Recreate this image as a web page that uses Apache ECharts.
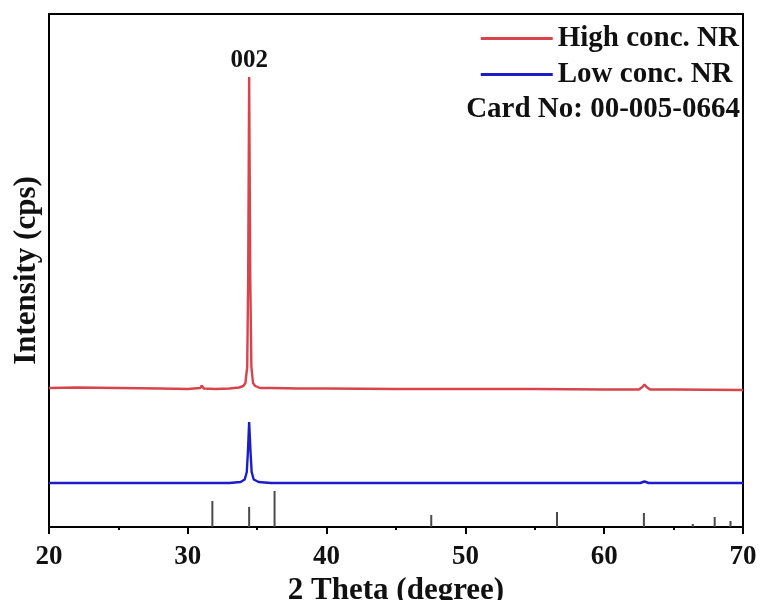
<!DOCTYPE html>
<html><head><meta charset="utf-8">
<script src="https://cdn.jsdelivr.net/npm/echarts@6/dist/echarts.min.js"></script>
<style>html,body{margin:0;padding:0;background:#fff}#c{width:761px;height:600px}</style>
</head><body><div id="c"></div>
<script>
// 2θ (degree) / intensity (arbitrary, offset)
const highConc = [[20,139],[22,139.5],[25,139],[28,138.5],[30,138],[30.9,139],[31.0,141.5],[31.15,138.5],[32,138],[33,138.5],[33.7,139.5],[34.0,141],[34.15,144],[34.28,160],[34.35,250],[34.42,450],[34.5,250],[34.58,160],[34.7,144],[34.85,141],[35.2,139],[36,139],[38,138.5],[40,138.5],[45,138],[50,138],[55,138],[60,137.5],[62.5,137.5],[62.75,140],[62.9,142.5],[63.05,140],[63.3,137.5],[65,137.5],[70,137]];
const lowConc = [[20,44],[25,44],[30,44],[33,44],[33.8,45],[34.1,47.5],[34.25,55],[34.33,75],[34.42,105],[34.52,75],[34.6,55],[34.75,47.5],[35.1,45],[36,44],[40,44],[50,44],[60,44],[62.6,44],[62.9,45.5],[63.2,44],[70,44]];
const cardPos = [31.77,34.42,36.25,47.54,56.60,62.86,66.38,67.96,69.10];
const cardInt = [26,20,36,12,15,14,3,10,6];
const xTicks = [20,30,40,50,60,70];
const FONT = '"Liberation Serif","Times New Roman",serif';

const chart = echarts.init(document.getElementById('c'));
chart.setOption({
  animation:false,
  backgroundColor:'#fff',
  grid:{left:49,right:18,top:14,bottom:73,outerBoundsMode:'none',containLabel:false,show:true,borderColor:'#000',borderWidth:2},
  legend:[{
    orient:'vertical',right:17,top:19,itemWidth:72,itemHeight:3,itemGap:7,icon:'rect',selectedMode:false,
    data:['High conc. NR','Low conc. NR'],
    textStyle:{fontFamily:FONT,fontWeight:'bold',fontSize:29,color:'#111'}
  },{
    orient:'vertical',right:16,top:90,itemWidth:0,itemHeight:0,icon:'none',selectedMode:false,
    data:['Card No: 00-005-0664'],
    textStyle:{fontFamily:FONT,fontWeight:'bold',fontSize:29,color:'#111'}
  }],
  xAxis:{type:'value',min:xTicks[0],max:xTicks[xTicks.length-1],interval:10,
    name:'2 Theta (degree)',nameLocation:'middle',nameGap:41,
    nameTextStyle:{fontFamily:FONT,fontWeight:'bold',fontSize:31,color:'#111'},
    axisLine:{lineStyle:{color:'#000',width:2}},
    axisTick:{length:7,lineStyle:{color:'#000',width:2}},
    minorTick:{show:true,splitNumber:2,length:3,lineStyle:{color:'#000',width:2}},
    splitLine:{show:false},
    axisLabel:{margin:17,fontFamily:FONT,fontWeight:'bold',fontSize:27,color:'#111'}
  },
  yAxis:{type:'value',min:0,max:513,
    name:'Intensity (cps)',nameLocation:'middle',nameGap:7,
    nameTextStyle:{fontFamily:FONT,fontWeight:'bold',fontSize:31,color:'#111'},
    axisLine:{show:true,lineStyle:{color:'#000',width:2}},
    axisTick:{show:false},axisLabel:{show:false},splitLine:{show:false}
  },
  series:[
    {name:'High conc. NR',type:'line',data:highConc,showSymbol:false,symbol:'none',
     lineStyle:{color:'#d9434b',width:2.4},itemStyle:{color:'#d9434b'},
     markPoint:{symbol:'circle',symbolSize:0,data:[{coord:[34.42,450],value:'002'}],
       label:{show:true,position:'top',distance:4,formatter:'002',fontFamily:FONT,fontWeight:'bold',fontSize:25,color:'#111'}}},
    {name:'Low conc. NR',type:'line',data:lowConc,showSymbol:false,symbol:'none',
     lineStyle:{color:'#1c1cc8',width:2.4},itemStyle:{color:'#1c1cc8'}},
    {name:'Card No: 00-005-0664',type:'bar',barWidth:2,
     data:cardPos.map((p,i)=>[p,cardInt[i]]),itemStyle:{color:'#4a4a4a'}}
  ]
});
</script></body></html>
